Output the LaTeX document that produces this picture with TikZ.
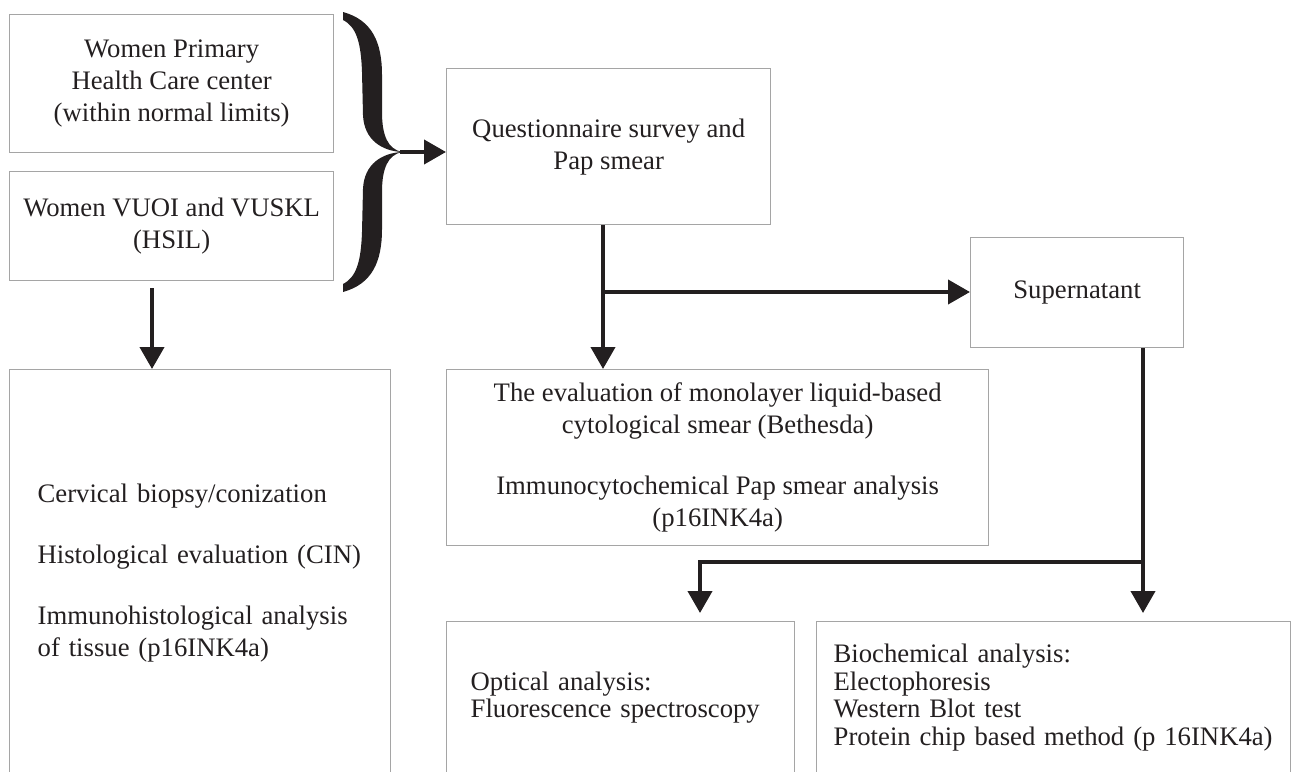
\documentclass[tikz,border=0pt]{standalone}
\usepackage{fontspec}
\setmainfont{Liberation Serif}
\usetikzlibrary{arrows.meta}
\definecolor{ink}{RGB}{35,31,32}
\definecolor{boxgray}{RGB}{165,165,165}
\tikzset{
  box/.style={draw=boxgray, line width=1.3pt, inner sep=0pt, anchor=north west,
    text=ink, font=\fontsize{26.7}{32}\selectfont},
  listbox/.style={box, align=left, font=\fontsize{26.7}{27.5}\selectfont},
  arr/.style={draw=ink, line width=4pt, -{Triangle[width=24pt,length=22pt]}},
}

\begin{document}
\begin{tikzpicture}[x=1pt,y=-1pt]
  \clip (0,0) rectangle (1295,771);

  % boxes
  \node[box, minimum width=324pt, minimum height=138pt, align=center] (normal) at (9,14)
    {Women Primary\\Health Care center\\(within normal limits)};
  \node[box, minimum width=324pt, minimum height=109pt, align=center] (hsil) at (9,171)
    {Women VUOI and VUSKL\\(HSIL)};
  \node[box, minimum width=324pt, minimum height=156pt, align=center] (quest) at (446,68)
    {Questionnaire survey and\\Pap smear};
  \node[box, minimum width=213pt, minimum height=110pt] (super) at (970,237) {Supernatant};
  \node[box, minimum width=542pt, minimum height=176pt, align=center] (eval) at (446,369)
    {The evaluation of monolayer liquid-based\\cytological smear (Bethesda)\\[29pt]
     Immunocytochemical Pap smear analysis\\(p16INK4a)};
  \node[box, minimum width=381pt, minimum height=406pt, text width=325pt, align=left] (histo) at (9,369)
    {Cervical biopsy/conization\\[29pt]Histological evaluation (CIN)\\[29pt]
     Immunohistological analysis\\of tissue (p16INK4a)};
  \node[listbox, minimum width=348pt, minimum height=152pt, text width=300pt] (optic) at (446,621)
    {Optical analysis:\\Fluorescence spectroscopy};
  \node[listbox, minimum width=474pt, minimum height=152pt, text width=440pt] (bio) at (816,621)
    {Biochemical analysis:\\Electophoresis\\Western Blot test\\Protein chip based method (p 16INK4a)};

  % brace
  \fill[ink] (343,12) .. controls (372,20) and (382,42) .. (382,75)
    -- (382,112) .. controls (382,136) and (388,149) .. (402,152)
    .. controls (382,151) and (364,140) .. (363,115)
    -- (362,72) .. controls (361,44) and (357,27) .. (343,20) -- cycle;
  \fill[ink] (343,292) .. controls (372,284) and (382,262) .. (382,229)
    -- (382,192) .. controls (382,168) and (388,155) .. (402,152)
    .. controls (382,153) and (364,164) .. (363,189)
    -- (362,232) .. controls (361,260) and (357,277) .. (343,284) -- cycle;

  \coordinate (tip) at (400,152);
  \coordinate (hx) at (152,0);
  \coordinate (qx) at (603,0);
  \coordinate (split1) at (603,292);
  \coordinate (sx) at (1143,0);
  \coordinate (split2) at (1143,562);
  \coordinate (ox) at (700,0);

  % arrows
  \draw[arr] (tip) -- (tip -| quest.west);
  \draw[arr] ([yshift=-7pt]hsil.south -| hx) -- (histo.north -| hx);
  \draw[arr] (quest.south -| qx) -- (eval.north -| qx);
  \draw[arr] (split1) -- (split1 -| super.west);
  \draw[arr] (super.south -| sx) -- ([yshift=8pt]bio.north -| sx);
  \draw[arr] (split2) -| ([yshift=8pt]optic.north -| ox);
\end{tikzpicture}
\end{document}
